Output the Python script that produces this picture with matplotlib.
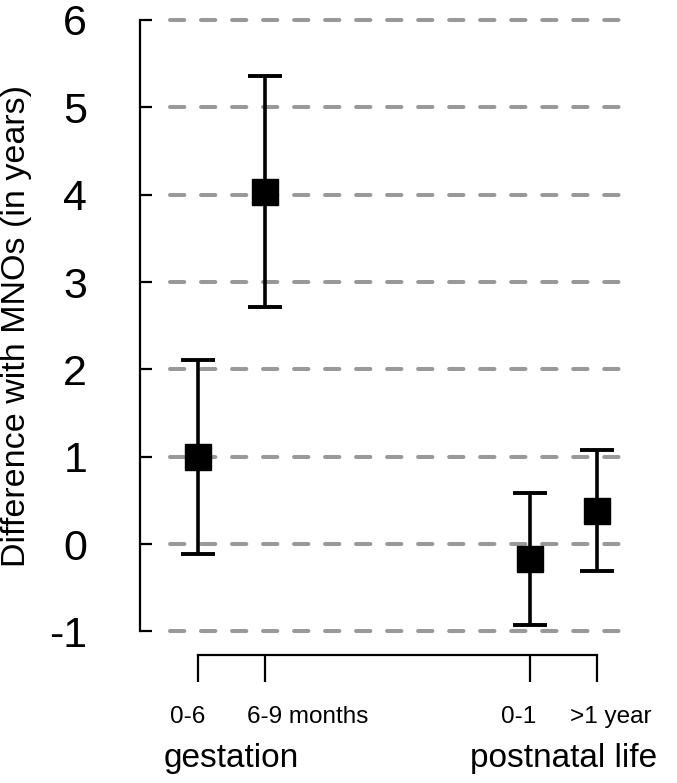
import matplotlib.pyplot as plt
import matplotlib.transforms as mtransforms

plt.rcParams['font.family'] = ['Liberation Sans', 'DejaVu Sans']

# data
positions = [1, 2, 6, 7]
estimates = [1.00, 4.03, -0.17, 0.38]
upper = [2.11, 5.36, 0.58, 1.08]
lower = [-0.11, 2.71, -0.93, -0.31]
period_labels = ["0-6", "6-9 months", "0-1", ">1 year"]
group_labels = ["gestation", "postnatal life"]
y_ticks = [-1, 0, 1, 2, 3, 4, 5, 6]

# label placement (data x), R-style offsets
label_x = [0.83, 2.64, 5.82, 7.21]
group_x = [1.5, 6.5]

fig = plt.figure(figsize=(6.77, 7.83), dpi=100)
ax = fig.add_axes([0.2068, 0.1635, 0.945 - 0.2068, 0.9745 - 0.1635])
ax.set_xlim(0.12, 7.65)
ax.set_ylim(-1.27, 6.0)

# dashed reference lines
ax.hlines(y_ticks, 0.575, 7.45, colors="#999999", linewidth=2.9,
          linestyles=(0, (3.55, 4.15)), capstyle="round", zorder=1, clip_on=False)

err_lo = [e - l for e, l in zip(estimates, lower)]
err_hi = [u - e for e, u in zip(estimates, upper)]
ax.errorbar(positions, estimates, yerr=[err_lo, err_hi], fmt="s", color="black",
            markersize=19, elinewidth=2.6, capsize=12, capthick=2.8, zorder=3)

for s in ["top", "right"]:
    ax.spines[s].set_visible(False)
ax.spines["left"].set_bounds(-1, 6)
ax.spines["left"].set_linewidth(1.6)
ax.spines["bottom"].set_bounds(positions[0], positions[-1])
ax.spines["bottom"].set_linewidth(1.6)

ax.set_yticks(y_ticks)
ax.set_yticklabels([str(v) for v in y_ticks], fontsize=31)
ax.tick_params(axis="y", direction="in", length=8.6, width=1.6, pad=38)
ax.set_xticks(positions)
ax.set_xticklabels([])
ax.tick_params(axis="x", direction="out", length=19.5, width=1.6)

trans = mtransforms.blended_transform_factory(ax.transData, fig.transFigure)
for x, lab in zip(label_x, period_labels):
    ax.text(x, 0.0843, lab, transform=trans, ha="center", va="center", fontsize=17.5)
for x, lab in zip(group_x, group_labels):
    ax.text(x, 0.031, lab, transform=trans, ha="center", va="center", fontsize=24)

fig.text(0.025, 0.584, "Difference with MNOs (in years)", rotation=90,
         ha="center", va="center", fontsize=24.5)

fig.savefig("out.png", dpi=100)
